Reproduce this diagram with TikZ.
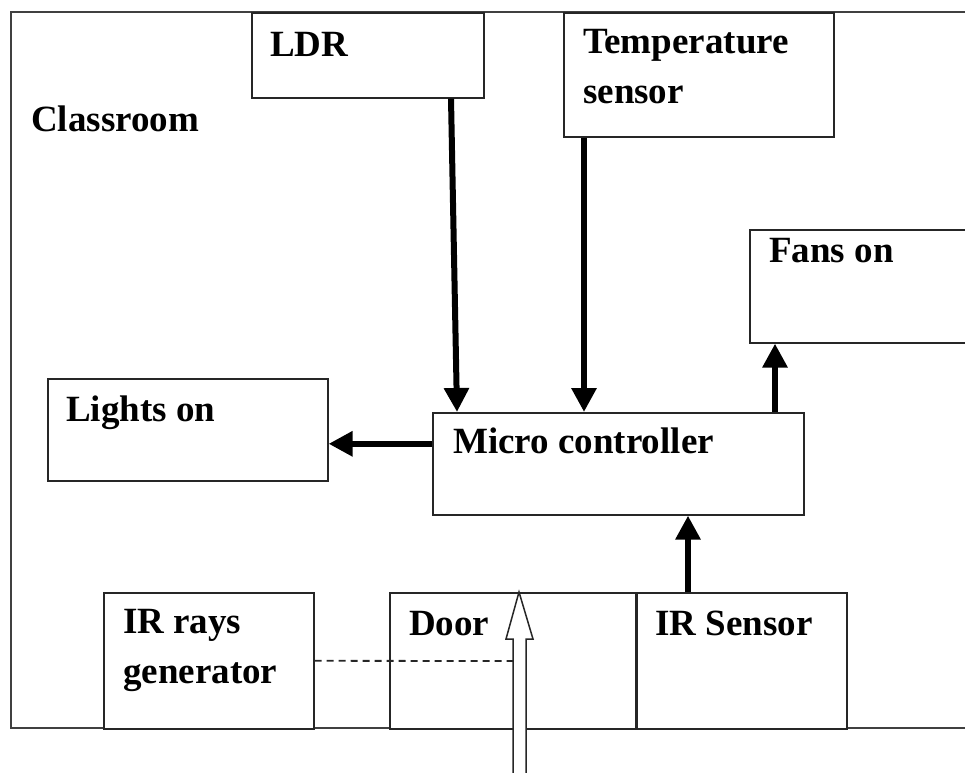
\documentclass[tikz,border=0pt]{standalone}
\usepackage{fontspec}
\setmainfont{Liberation Serif}
\usetikzlibrary{arrows.meta,calc}
\begin{document}
\begin{tikzpicture}[x=1pt,y=-1pt,
  box/.style={draw=black!85,line width=1.6pt,fill=white,rectangle,inner sep=0pt,anchor=north west},
  lbl/.style={inner sep=0pt,anchor=base west,align=left,font=\fontsize{37}{50}\selectfont\bfseries},
  arr/.style={line width=6pt,-{Triangle[width=24pt,length=24pt]}},
  room/.style={draw=black!75,line width=2.4pt}]
\useasboundingbox (0,0) rectangle (965,772);
\clip (0,0) rectangle (965,772);
% classroom outline (right side runs off the picture)
\draw[room] (990,12) -- (11,12) -- (11,728) -- (990,728);
% boxes
\node[box,minimum width=232pt,minimum height=85pt] (ldr) at (251,12) {};
\node[box,minimum width=270pt,minimum height=124pt] (temp) at (563,12) {};
\node[box,minimum width=240pt,minimum height=113pt] (fans) at (749,229) {};
\node[box,minimum width=280pt,minimum height=102pt] (lights) at (47,378) {};
\node[box,minimum width=371pt,minimum height=102pt] (mc) at (432,412) {};
\node[box,minimum width=210pt,minimum height=136pt] (irg) at (103,592) {};
\node[box,minimum width=246pt,minimum height=136pt] (door) at (389,592) {};
\node[box,minimum width=210pt,minimum height=136pt] (irs) at (636,592) {};
% labels (multi-line labels are placed by their last baseline)
\node[lbl] (tclass) at (31,131) {Classroom};
\node[lbl] (tldr) at (270,56) {LDR};
\node[lbl] (ttemp) at (583,103) {Temperature\\sensor};
\node[lbl] (tfans) at (769,262) {Fans on};
\node[lbl] (tlights) at (66,421) {Lights on};
\node[lbl] (tmc) at (453,453) {Micro controller};
\node[lbl] (tirg) at (123,683) {IR rays\\generator};
\node[lbl] (tdoor) at (409,635) {Door};
\node[lbl] (tirs) at (655,635) {IR Sensor};
% connectors
\draw[arr] ([xshift=200pt]ldr.south west) -- ([xshift=25pt]mc.north west);
\draw[arr] ([xshift=21pt]temp.south west) -- ([xshift=152pt]mc.north west);
\draw[arr] ([yshift=20pt]mc.west) -- ([yshift=20pt]mc.west -| lights.east);
\draw[arr] ([xshift=343pt]mc.north west) -- ([xshift=26pt]fans.south west);
\draw[arr] ([xshift=52pt]irs.north west) -- ([xshift=52pt]irs.north west |- mc.south);
% IR beam
\coordinate (beam) at (530,661);
\draw[line width=1.8pt,dash pattern=on 7pt off 5pt,draw=black!85] (irg.east) -- (beam);
% entry arrow (hollow)
\coordinate (entry) at ([xshift=130pt]door.north west);
\draw[line width=1.5pt,fill=white,draw=black!85]
  (entry) -- ++(14,47) -- ++(-7,0) -- (526,790) -- (513,790) -- (513,639) -- ++(-7,0) -- cycle;
\end{tikzpicture}
\end{document}
